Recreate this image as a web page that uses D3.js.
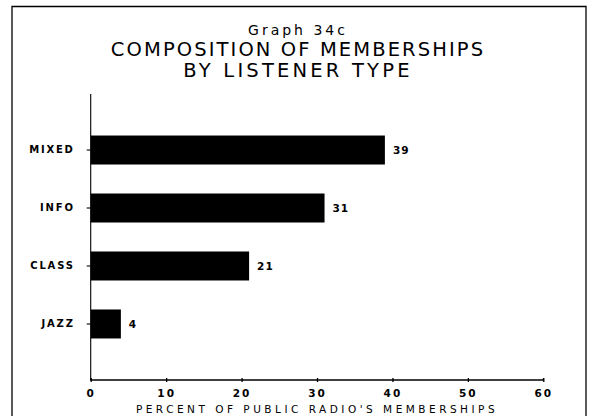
<!DOCTYPE html>
<html>
<head>
<meta charset="utf-8">
<script src="https://cdn.jsdelivr.net/npm/d3@7"></script>
<style>
  body { margin: 0; background: #fff; }
  svg text { font-family: 'DejaVu Sans', sans-serif; fill: #000; }
</style>
</head>
<body>
<div id="chart"></div>
<script>
const categories = ['MIXED', 'INFO', 'CLASS', 'JAZZ']
const values = [39, 31, 21, 4]
const xTicks = [0, 10, 20, 30, 40, 50, 60]
const titleLines = ['Graph 34c', 'COMPOSITION OF MEMBERSHIPS', 'BY LISTENER TYPE']
const xTitle = "PERCENT OF PUBLIC RADIO'S MEMBERSHIPS"

const width = 589
const height = 416
const x0 = 90.7, x1 = 543.3
const yTop = 94, yBot = 380

const svg = d3.select('#chart').append('svg')
  .attr('width', width)
  .attr('height', height)

// frame (bottom edge runs off the page)
svg.append('path')
  .attr('d', 'M12,420 V6.5 H586 V420')
  .attr('fill', 'none')
  .attr('stroke', '#000')
  .attr('stroke-width', 1.3)

// title
const titleSizes = [14, 19.5, 19.5]
const titleY = [35, 56, 77]
const titleSpacing = [3, 2.1, 3.2]
titleLines.forEach((t, i) => {
  svg.append('text')
    .attr('x', 298)
    .attr('y', titleY[i])
    .attr('text-anchor', 'middle')
    .attr('font-size', titleSizes[i])
    .attr('letter-spacing', titleSpacing[i])
    .text(t)
})

const xScale = d3.scaleLinear().domain([0, 60]).range([x0, x1])
const yScale = d3.scaleBand()
  .domain(categories)
  .range([yTop, yBot])
  .paddingInner(0.5)
  .paddingOuter(0.716)

// bars
svg.selectAll('.bar')
  .data(values)
  .join('rect')
  .attr('class', 'bar')
  .attr('x', xScale(0))
  .attr('y', (d, i) => yScale(categories[i]))
  .attr('width', d => xScale(d) - xScale(0))
  .attr('height', yScale.bandwidth())
  .attr('fill', '#000')

// value labels
svg.selectAll('.val')
  .data(values)
  .join('text')
  .attr('class', 'val')
  .attr('x', d => xScale(d) + 8)
  .attr('y', (d, i) => yScale(categories[i]) + yScale.bandwidth() / 2 + 4)
  .attr('font-size', 10.5)
  .attr('font-weight', 'bold')
  .attr('letter-spacing', 1)
  .text(d => d)

// x axis
const xAxis = d3.axisBottom(xScale)
  .tickValues(xTicks)
  .tickSize(2)
  .tickPadding(8)
svg.append('g')
  .attr('transform', `translate(0,${yBot})`)
  .call(xAxis)
  .call(g => g.select('.domain').attr('stroke-width', 1.3).attr('d', `M${x0},-1.5V0H${x1}V-1.5`))
  .call(g => g.selectAll('.tick line').attr('y1', -2).attr('stroke-width', 1.3))
  .call(g => g.selectAll('.tick text')
    .attr('font-family', "'DejaVu Sans', sans-serif")
    .attr('font-size', 10.5)
    .attr('font-weight', 'bold')
    .attr('letter-spacing', 2))

// y axis
const yAxis = d3.axisLeft(yScale)
  .tickSize(4)
  .tickPadding(12)
svg.append('g')
  .attr('transform', `translate(${x0},0)`)
  .call(yAxis)
  .call(g => g.select('.domain').attr('stroke-width', 1.1).attr('d', `M0,${yTop}V${yBot}`))
  .call(g => g.selectAll('.tick line').attr('stroke-width', 1.1))
  .call(g => g.selectAll('.tick text')
    .attr('font-family', "'DejaVu Sans', sans-serif")
    .attr('font-size', 10)
    .attr('font-weight', 'bold')
    .attr('letter-spacing', 1.8))

// x axis title
svg.append('text')
  .attr('x', xScale(30))
  .attr('y', 413)
  .attr('text-anchor', 'middle')
  .attr('font-size', 10.5)
  .attr('letter-spacing', 3.5)
  .text(xTitle)
</script>
</body>
</html>
